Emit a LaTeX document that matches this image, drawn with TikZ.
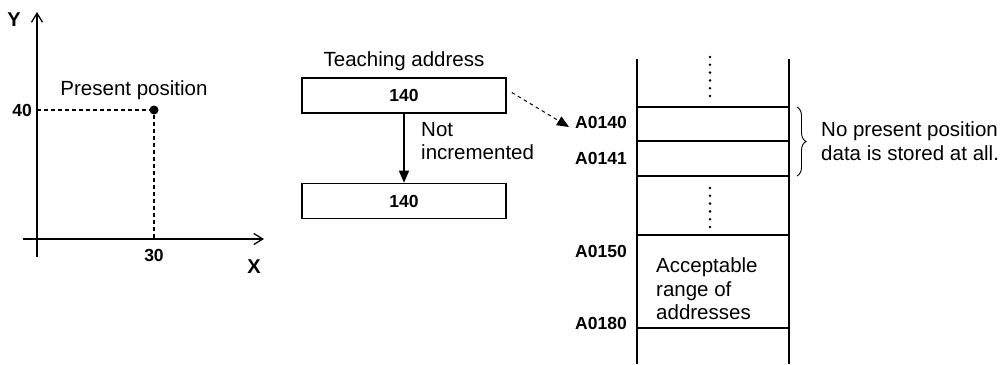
\documentclass[tikz,border=0pt]{standalone}
\usepackage{fontspec}
\setmainfont{Liberation Sans}
\usepackage{tikz}
\usetikzlibrary{arrows.meta, positioning, calc, decorations.pathreplacing}

\begin{document}
\begin{tikzpicture}[
    x=1pt, y=-1pt,
    txt/.style={font=\fontsize{20.5}{23.5}\selectfont, inner sep=1pt},
    num/.style={font=\fontsize{17.5}{20}\selectfont\bfseries, inner sep=1pt},
    axlab/.style={font=\fontsize{20}{22}\selectfont\bfseries, inner sep=1pt},
    addrbox/.style={draw, line width=1.6pt, minimum width=204pt, minimum height=35pt, inner sep=0pt, num},
    axis/.style={line width=1.6pt, -{Straight Barb[length=9pt, width=11pt, line width=1.3pt]}},
    guide/.style={line width=1.4pt, dash pattern=on 4pt off 3pt},
    arr/.style={line width=1.4pt, -{Triangle[length=12pt, width=10pt]}},
    ptr/.style={line width=1pt, dash pattern=on 3.5pt off 3.5pt, -{Triangle[length=12pt, width=10pt]}},
    memline/.style={line width=1.6pt},
    dots/.style={line width=2.8pt, line cap=round, dash pattern=on 0pt off 7.8pt},
    dot/.style={circle, fill, inner sep=0pt, minimum size=9pt},
]
\useasboundingbox (0,0) rectangle (1008,364);

% coordinate plane
\coordinate (ybot) at (37,257);
\coordinate (ytop) at (37,12);
\coordinate (xleft) at (23,239);
\coordinate (xright) at (264,239);
\draw[axis] (ybot) -- (ytop);
\draw[axis] (xleft) -- (xright);
\node[axlab] (ylab) at (14,20) {Y};
\node[axlab] (xlab) at (254,267) {X};

\node[dot] (pos) at (154,110) {};
\coordinate (ymark) at (37,110);
\coordinate (xmark) at (154,239);
\draw[guide] (ymark) -- (pos);
\draw[guide] (pos) -- (xmark);
\node[num, anchor=east] (ytick) at (33,110) {40};
\node[num] (xtick) at (154,255) {30};
\node[txt] (poslab) at (134,90) {Present position};

% teaching address
\node[addrbox] (teach) at (404,95.5) {140};
\node[txt, above=5pt of teach] (teachlab) {Teaching address};
\node[addrbox] (next) at (404,201) {140};
\draw[arr] (teach) -- (next);
\node[txt, anchor=west, align=left] (notinc) at (420,141) {Not\\incremented};

% memory column
\coordinate (ltop) at (637,59);
\coordinate (lbot) at (637,364);
\coordinate (rtop) at (789,59);
\coordinate (rbot) at (789,364);
\draw[memline] (ltop) -- (lbot);
\draw[memline] (rtop) -- (rbot);
\foreach \y/\name in {107/r1, 141/r2, 176/r3, 235/r4, 328/r5}{
  \coordinate (\name l) at (637,\y);
  \coordinate (\name r) at (789,\y);
  \draw[memline] (\name l) -- (\name r);
}
\coordinate (d1top) at (710,57);
\coordinate (d1bot) at (710,97);
\coordinate (d2top) at (710,188);
\coordinate (d2bot) at (710,228);
\draw[dots] (d1top) -- (d1bot);
\draw[dots] (d2top) -- (d2bot);

\node[num, anchor=east] (a140) at (628,122) {A0140};
\node[num, anchor=east] (a141) at (628,158) {A0141};
\node[num, anchor=east] (a150) at (628,251) {A0150};
\node[num, anchor=east] (a180) at (628,323) {A0180};
\node[txt, anchor=west, align=left] (range) at (655,289) {Acceptable\\range of\\addresses};

\draw[ptr] ([xshift=5pt, yshift=3pt]teach.east) -- ([xshift=-5pt, yshift=-5pt]a140.west);

% unused cells
\draw[line width=0.9pt, decorate, decoration={brace, amplitude=9pt}]
  ([xshift=8pt]r1r) -- ([xshift=8pt]r3r);
\node[txt, anchor=west, align=left] (nodata) at (820,141) {No present position\\data is stored at all.};

\end{tikzpicture}
\end{document}
